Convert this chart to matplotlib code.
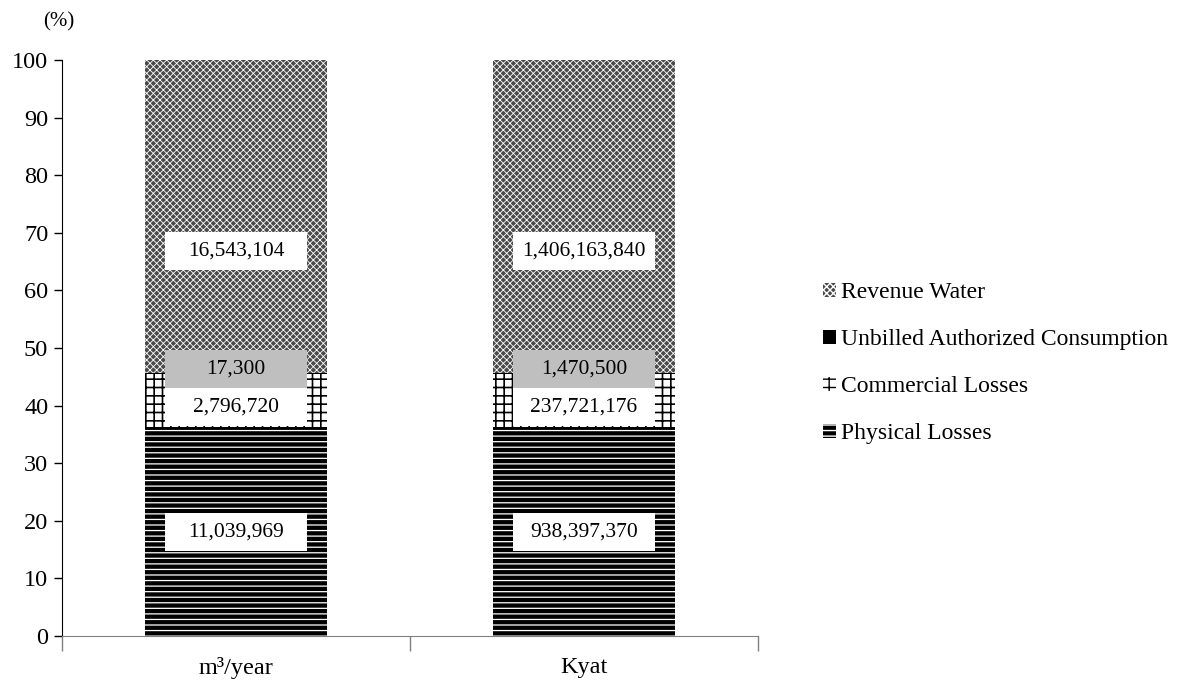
import matplotlib
matplotlib.use("Agg")
import matplotlib.pyplot as plt
from matplotlib.patches import Rectangle, Patch

plt.rcParams['font.family'] = ['Liberation Serif', 'DejaVu Serif']

categories = ["m³/year", "Kyat"]
series = ["Physical Losses", "Commercial Losses",
          "Unbilled Authorized Consumption", "Revenue Water"]
physical = [11039969, 938397370]
commercial = [2796720, 237721176]
unbilled = [17300, 1470500]
revenue = [16543104, 1406163840]

# label box centres (in %), picked so boxes don't collide
label_y = [18.1, 39.7, 46.4, 66.8]
label_face = ["white", "white", "#bfbfbf", "white"]

styles = {
    "Physical Losses": dict(facecolor="black", edgecolor="white", hatch="---"),
    "Commercial Losses": dict(facecolor="white", edgecolor="black", hatch="++"),
    "Unbilled Authorized Consumption": dict(facecolor="black", edgecolor="white", hatch=""),
    "Revenue Water": dict(facecolor="#4a4a4a", edgecolor="white", hatch="xxxxx"),
}
hatch_lw = {"Physical Losses": 0.9, "Commercial Losses": 1.2,
            "Unbilled Authorized Consumption": 1.0, "Revenue Water": 0.6}

values = [physical, commercial, unbilled, revenue]
totals = [sum(v[i] for v in values) for i in range(len(categories))]

fig = plt.figure(figsize=(11.84, 6.84), dpi=100)
ax = fig.add_axes([0.0524, 0.0702, 0.5878, 0.8421])

x = list(range(len(categories)))
width = 0.523
bottom = [0.0] * len(categories)
for name, vals in zip(series, values):
    pct = [v / t * 100 for v, t in zip(vals, totals)]
    with plt.rc_context({'hatch.linewidth': hatch_lw[name]}):
        ax.bar(x, pct, width, bottom=bottom, label=name, linewidth=0, **styles[name])
    bottom = [b + p for b, p in zip(bottom, pct)]

box_w = 0.41
box_h = 6.6
for i in x:
    for vals, yc, fc in zip(values, label_y, label_face):
        ax.add_patch(Rectangle((i - box_w / 2, yc - box_h / 2), box_w, box_h,
                               facecolor=fc, edgecolor="none", zorder=3))
        ax.text(i, yc, f"{vals[i]:,}", ha="center", va="center",
                fontsize=15.5, zorder=4)

ax.set_xlim(-0.5, 1.5)
ax.set_ylim(0, 100)
ax.set_yticks(range(0, 101, 10))
ax.tick_params(axis="y", labelsize=17.5, length=6, direction="out", width=1, pad=4)
ax.set_xticks(x)
ax.set_xticklabels(categories, fontsize=17.5)
ax.tick_params(axis="x", which="major", length=0, pad=15)
ax.set_xticks([-0.5, 0.5, 1.5], minor=True)
ax.tick_params(axis="x", which="minor", length=11, color="#808080", width=1)
ax.spines["top"].set_visible(False)
ax.spines["right"].set_visible(False)
ax.spines["bottom"].set_color("#808080")

fig.text(0.050, 0.968, "(%)", fontsize=15, ha="center", va="center")

handles = []
for n in reversed(series):
    with plt.rc_context({'hatch.linewidth': hatch_lw[n]}):
        handles.append(Patch(label=n, linewidth=0, **styles[n]))
fig.legend(handles=handles, loc="center left", bbox_to_anchor=(0.677, 0.469),
           frameon=False, fontsize=17, handlelength=0.55, handleheight=0.55,
           handletextpad=0.2, labelspacing=1.1)

fig.savefig("out.png", dpi=100)
